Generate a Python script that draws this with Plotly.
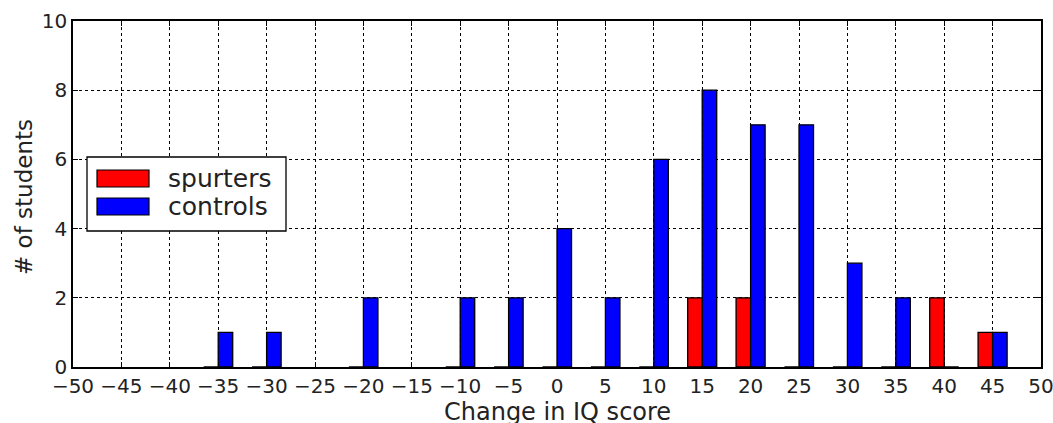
import plotly.graph_objects as go

# Histogram counts of IQ-score change, binned in steps of 5
bins = [-35, -30, -20, -10, -5, 0, 5, 10, 15, 20, 25, 30, 35, 40, 45]
controls = [1, 1, 2, 2, 2, 4, 2, 6, 8, 7, 7, 3, 2, 0, 1]
spurters = [0, 0, 0, 0, 0, 0, 0, 0, 2, 2, 0, 0, 0, 2, 1]

x_ticks = list(range(-50, 55, 5))
y_ticks = [0, 2, 4, 6, 8, 10]

BAR_W = 1.5
FONT = "DejaVu Sans"
TEXT = "#222222"

fig = go.Figure()
fig.add_trace(go.Bar(
    x=bins, y=spurters, name="spurters", width=BAR_W, offset=-BAR_W,
    marker=dict(color="#ff0000", line=dict(color="black", width=1.3)),
))
fig.add_trace(go.Bar(
    x=bins, y=controls, name="controls", width=BAR_W, offset=0,
    marker=dict(color="#0000ff", line=dict(color="black", width=1.3)),
))

axis_common = dict(
    showline=True, linecolor="black", linewidth=1.5, mirror="allticks",
    ticks="inside", ticklen=5, tickcolor="black", tickwidth=1,
    showgrid=True, gridcolor="black", gridwidth=1, griddash="dot",
    zeroline=False, tickfont=dict(family=FONT, size=20, color=TEXT),
    automargin=False, ticklabeloverflow="allow",
)

fig.update_xaxes(range=[-50, 50], tickvals=x_ticks, **axis_common)
fig.update_yaxes(range=[0, 10], tickvals=y_ticks, **axis_common)

# Plot-area edges in pixels, used to place titles and the legend box
L, R, B, T = 73, 1041, 367, 21


def px(xp):
    return (xp - L) / (R - L)


def py(yp):
    return (B - yp) / (B - T)


shapes = [
    dict(type="rect", xref="paper", yref="paper", x0=px(87), x1=px(286), y0=py(231), y1=py(157),
         fillcolor="white", line=dict(color="black", width=1.3), layer="above"),
    dict(type="rect", xref="paper", yref="paper", x0=px(97), x1=px(149), y0=py(187), y1=py(170),
         fillcolor="#ff0000", line=dict(color="black", width=1.2), layer="above"),
    dict(type="rect", xref="paper", yref="paper", x0=px(97), x1=px(149), y0=py(215), y1=py(198),
         fillcolor="#0000ff", line=dict(color="black", width=1.2), layer="above"),
]
annotations = [
    dict(xref="paper", yref="paper", x=px(166), y=py(178), text="spurters", showarrow=False,
         xanchor="left", yanchor="middle", font=dict(family=FONT, size=25, color=TEXT)),
    dict(xref="paper", yref="paper", x=px(166), y=py(206), text="controls", showarrow=False,
         xanchor="left", yanchor="middle", font=dict(family=FONT, size=25, color=TEXT)),
    # axis titles
    dict(xref="paper", yref="paper", x=0.5, y=py(412), text="Change in IQ score", showarrow=False,
         xanchor="center", yanchor="middle", font=dict(family=FONT, size=24, color=TEXT)),
    dict(xref="paper", yref="paper", x=px(24), y=py(197), text="# of students", showarrow=False,
         textangle=-90, xanchor="center", yanchor="middle", font=dict(family=FONT, size=23, color=TEXT)),
]

fig.update_layout(
    width=1053, height=423,
    margin=dict(l=L, r=1053 - R, t=T, b=423 - B, autoexpand=False),
    plot_bgcolor="white", paper_bgcolor="white",
    barmode="overlay", showlegend=False,
    shapes=shapes, annotations=annotations,
)

fig.write_html("out.html")
